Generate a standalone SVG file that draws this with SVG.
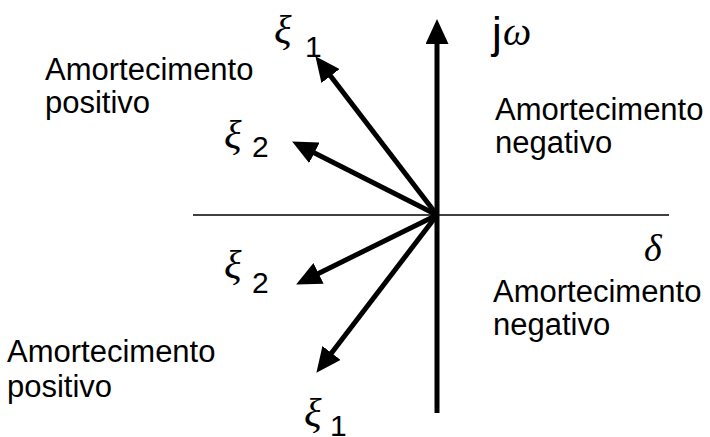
<svg xmlns="http://www.w3.org/2000/svg" width="710" height="437" viewBox="0 0 710 437">
<style>
.lbl{font-family:"Liberation Sans",Arial,sans-serif;font-size:31px;fill:#000}
.sub{font-family:"Liberation Sans",Arial,sans-serif;font-size:30px;fill:#000}
.gr{font-family:"Liberation Serif","DejaVu Serif",serif;font-style:italic;fill:#000}
.xi{font-size:41px}
.vec{stroke:#000;stroke-width:5;fill:none;marker-end:url(#ah)}
</style>
<defs>
<marker id="ah" markerUnits="userSpaceOnUse" markerWidth="25" markerHeight="23" refX="12" refY="11.5" orient="auto" viewBox="0 0 25 23">
<path d="M0,0 L25,11.5 L0,23 z" fill="#000"/>
</marker>
</defs>
<g id="connectors">
<line x1="193" y1="215" x2="669" y2="215" stroke="#000" stroke-width="1.5"/>
<line class="vec" x1="437" y1="413" x2="437" y2="32"/>
<line class="vec" x1="437" y1="215" x2="323.3" y2="66.5"/>
<line class="vec" x1="437" y1="215" x2="303.7" y2="147.4"/>
<line class="vec" x1="437" y1="215" x2="307.8" y2="278.7"/>
<line class="vec" x1="437" y1="215" x2="324.3" y2="362.5"/>
</g>
<g id="axis-labels">
<text x="492" y="48" class="sub" style="font-size:44px">j</text>
<text x="503" y="45" class="gr" style="font-size:40px">ω</text>
<text x="644" y="261" class="gr" style="font-size:38px">δ</text>
</g>
<g id="xi1-upper">
<text x="274" y="43" class="gr xi">ξ</text>
<text x="305" y="57" class="sub">1</text>
</g>
<g id="xi2-upper">
<text x="224" y="148" class="gr xi">ξ</text>
<text x="252" y="157" class="sub">2</text>
</g>
<g id="xi2-lower">
<text x="224" y="278" class="gr xi">ξ</text>
<text x="252" y="293" class="sub">2</text>
</g>
<g id="xi1-lower">
<text x="304" y="426" class="gr xi">ξ</text>
<text x="330" y="436" class="sub">1</text>
</g>
<g id="label-pos-upper">
<text x="45" y="80" class="lbl">Amortecimento</text>
<text x="45" y="113" class="lbl">positivo</text>
</g>
<g id="label-neg-upper">
<text x="495" y="120" class="lbl">Amortecimento</text>
<text x="495" y="153" class="lbl">negativo</text>
</g>
<g id="label-neg-lower">
<text x="493" y="302" class="lbl">Amortecimento</text>
<text x="493" y="335" class="lbl">negativo</text>
</g>
<g id="label-pos-lower">
<text x="7" y="362" class="lbl">Amortecimento</text>
<text x="7" y="397" class="lbl">positivo</text>
</g>
</svg>
